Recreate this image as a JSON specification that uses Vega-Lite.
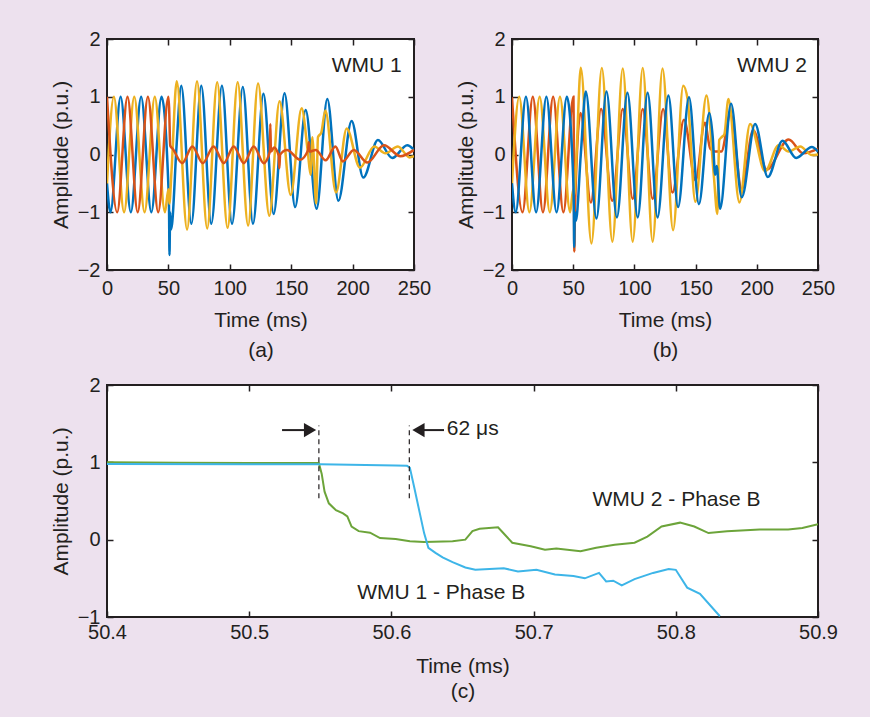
{
  "$schema": "https://vega.github.io/schema/vega-lite/v6.json",
  "background": "#EDE1EE",
  "padding": {"left": 49, "top": 28, "right": 31, "bottom": 15},
  "spacing": 13,
  "datasets": {
    "a": [
      {"s":"A","t":0,"v":-0.5},{"s":"A","t":2.8,"v":-1.0},{"s":"A","t":11.1,"v":1.0},{"s":"A","t":19.4,"v":-1.0},{"s":"A","t":27.8,"v":1.0},{"s":"A","t":36.1,"v":-1.0},{"s":"A","t":44.4,"v":1.0},{"s":"A","t":50.0,"v":-0.55},{"s":"A","t":50.5,"v":-0.9},{"s":"A","t":50.9,"v":-1.74},{"s":"A","t":51.4,"v":-1.0},{"s":"A","t":52.0,"v":-1.3},{"s":"A","t":53.0,"v":-1.2},{"s":"A","t":56.5,"v":0.1},{"s":"A","t":60.5,"v":1.19},{"s":"A","t":68.7,"v":-1.2},{"s":"A","t":76.8,"v":1.19},{"s":"A","t":84.9,"v":-1.2},{"s":"A","t":93.6,"v":1.19},{"s":"A","t":101.8,"v":-1.2},{"s":"A","t":110.6,"v":1.17},{"s":"A","t":118.9,"v":-1.2},{"s":"A","t":127.4,"v":1.05},{"s":"A","t":135.7,"v":-1.03},{"s":"A","t":144.6,"v":1.06},{"s":"A","t":153.2,"v":-0.91},{"s":"A","t":161.8,"v":0.77},{"s":"A","t":170.7,"v":-0.94},{"s":"A","t":179.4,"v":0.96},{"s":"A","t":188.4,"v":-0.8},{"s":"A","t":199.2,"v":0.58},{"s":"A","t":208.7,"v":-0.4},{"s":"A","t":220.6,"v":0.25},{"s":"A","t":232.3,"v":-0.06},{"s":"A","t":244.5,"v":0.16},{"s":"A","t":250,"v":0.08},
      {"s":"C","t":0,"v":-0.5},{"s":"C","t":5.6,"v":1.0},{"s":"C","t":13.9,"v":-1.0},{"s":"C","t":22.2,"v":1.0},{"s":"C","t":30.6,"v":-1.0},{"s":"C","t":38.9,"v":1.0},{"s":"C","t":47.2,"v":-1.0},{"s":"C","t":50.0,"v":-0.6},{"s":"C","t":50.8,"v":-0.85},{"s":"C","t":52.5,"v":-0.3},{"s":"C","t":56.8,"v":1.27},{"s":"C","t":65.2,"v":-1.3},{"s":"C","t":73.3,"v":1.27},{"s":"C","t":81.6,"v":-1.28},{"s":"C","t":89.7,"v":1.25},{"s":"C","t":98.2,"v":-1.27},{"s":"C","t":106.4,"v":1.25},{"s":"C","t":114.9,"v":-1.23},{"s":"C","t":123.0,"v":1.23},{"s":"C","t":132.2,"v":-1.06},{"s":"C","t":140.5,"v":0.92},{"s":"C","t":149.6,"v":-0.7},{"s":"C","t":158.5,"v":0.8},{"s":"C","t":163.5,"v":0.05},{"s":"C","t":165.8,"v":-0.35},{"s":"C","t":167.3,"v":0.3},{"s":"C","t":168.5,"v":-0.1},{"s":"C","t":170.3,"v":-0.85},{"s":"C","t":171.8,"v":0.3},{"s":"C","t":174.5,"v":0.38},{"s":"C","t":177.8,"v":0.76},{"s":"C","t":186.5,"v":-0.66},{"s":"C","t":195.2,"v":0.45},{"s":"C","t":206.0,"v":-0.23},{"s":"C","t":217.6,"v":0.14},{"s":"C","t":226.7,"v":0.02},{"s":"C","t":236.9,"v":0.14},{"s":"C","t":246.4,"v":-0.05},{"s":"C","t":250,"v":-0.03},
      {"s":"B","t":0,"v":1.0},{"s":"B","t":8.3,"v":-1.0},{"s":"B","t":16.7,"v":1.0},{"s":"B","t":25.0,"v":-1.0},{"s":"B","t":33.3,"v":1.0},{"s":"B","t":41.7,"v":-1.0},{"s":"B","t":50.0,"v":1.0},{"s":"B","t":50.6,"v":0.8},{"s":"B","t":51.5,"v":0.15},{"s":"B","t":53.5,"v":0.1},{"s":"B","t":61.3,"v":-0.15},{"s":"B","t":69.5,"v":0.14},{"s":"B","t":78.0,"v":-0.15},{"s":"B","t":86.8,"v":0.14},{"s":"B","t":95.1,"v":-0.15},{"s":"B","t":103.2,"v":0.14},{"s":"B","t":111.4,"v":-0.15},{"s":"B","t":119.5,"v":0.14},{"s":"B","t":127.6,"v":-0.15},{"s":"B","t":132.6,"v":0.05},{"s":"B","t":133.0,"v":0.53},{"s":"B","t":133.5,"v":0.05},{"s":"B","t":136.0,"v":0.12},{"s":"B","t":139.8,"v":-0.02},{"s":"B","t":140.3,"v":-0.24},{"s":"B","t":141.0,"v":0.0},{"s":"B","t":146.5,"v":0.08},{"s":"B","t":157.3,"v":-0.09},{"s":"B","t":163.8,"v":0.08},{"s":"B","t":164.3,"v":0.21},{"s":"B","t":165.0,"v":0.05},{"s":"B","t":170.0,"v":0.08},{"s":"B","t":178.0,"v":-0.1},{"s":"B","t":186.0,"v":0.14},{"s":"B","t":192.0,"v":-0.12},{"s":"B","t":201.0,"v":0.08},{"s":"B","t":212.0,"v":-0.14},{"s":"B","t":225.6,"v":0.16},{"s":"B","t":239.0,"v":-0.03},{"s":"B","t":250,"v":0.08}
    ],
    "b": [
      {"s":"B","t":0,"v":0.99},{"s":"B","t":8.6,"v":-1.0},{"s":"B","t":17.0,"v":1.0},{"s":"B","t":25.3,"v":-1.0},{"s":"B","t":33.6,"v":1.0},{"s":"B","t":42.0,"v":-1.0},{"s":"B","t":50.2,"v":1.0},{"s":"B","t":50.5,"v":0.3},{"s":"B","t":50.9,"v":-1.68},{"s":"B","t":51.5,"v":-0.9},{"s":"B","t":56.0,"v":0.72},{"s":"B","t":64.4,"v":-0.83},{"s":"B","t":72.8,"v":0.79},{"s":"B","t":81.9,"v":-0.8},{"s":"B","t":90.5,"v":0.79},{"s":"B","t":98.6,"v":-0.77},{"s":"B","t":106.8,"v":0.79},{"s":"B","t":114.9,"v":-0.77},{"s":"B","t":123.5,"v":0.79},{"s":"B","t":131.1,"v":-0.66},{"s":"B","t":140.5,"v":0.6},{"s":"B","t":150.0,"v":-0.45},{"s":"B","t":157.5,"v":0.55},{"s":"B","t":162.0,"v":0.1},{"s":"B","t":166.0,"v":0.05},{"s":"B","t":171.0,"v":0.05},{"s":"B","t":178.5,"v":0.7},{"s":"B","t":187.7,"v":-0.6},{"s":"B","t":197.0,"v":0.42},{"s":"B","t":208.0,"v":-0.26},{"s":"B","t":226.0,"v":0.26},{"s":"B","t":238.0,"v":0.02},{"s":"B","t":250,"v":0.1},
      {"s":"C","t":0,"v":-0.5},{"s":"C","t":5.9,"v":1.0},{"s":"C","t":14.2,"v":-1.0},{"s":"C","t":22.6,"v":1.0},{"s":"C","t":30.9,"v":-1.0},{"s":"C","t":39.2,"v":1.0},{"s":"C","t":47.5,"v":-1.0},{"s":"C","t":50.0,"v":-0.6},{"s":"C","t":50.8,"v":-0.7},{"s":"C","t":52.5,"v":-0.1},{"s":"C","t":56.2,"v":1.5},{"s":"C","t":64.9,"v":-1.54},{"s":"C","t":73.4,"v":1.5},{"s":"C","t":82.0,"v":-1.51},{"s":"C","t":90.5,"v":1.49},{"s":"C","t":98.6,"v":-1.51},{"s":"C","t":106.8,"v":1.5},{"s":"C","t":114.9,"v":-1.51},{"s":"C","t":123.0,"v":1.49},{"s":"C","t":131.6,"v":-1.31},{"s":"C","t":139.9,"v":1.19},{"s":"C","t":143.5,"v":0.95},{"s":"C","t":149.8,"v":-0.82},{"s":"C","t":158.9,"v":1.02},{"s":"C","t":164.9,"v":-0.37},{"s":"C","t":167.8,"v":-1.03},{"s":"C","t":169.3,"v":0.25},{"s":"C","t":171.3,"v":0.3},{"s":"C","t":173.5,"v":0.35},{"s":"C","t":176.8,"v":0.96},{"s":"C","t":185.8,"v":-0.83},{"s":"C","t":194.5,"v":0.53},{"s":"C","t":206.8,"v":-0.29},{"s":"C","t":217.8,"v":0.16},{"s":"C","t":226.0,"v":0.05},{"s":"C","t":235.5,"v":0.14},{"s":"C","t":245.0,"v":-0.01},{"s":"C","t":250,"v":0.0},
      {"s":"A","t":0,"v":-0.5},{"s":"A","t":3.0,"v":-1.0},{"s":"A","t":11.4,"v":1.0},{"s":"A","t":19.7,"v":-1.0},{"s":"A","t":28.1,"v":1.0},{"s":"A","t":36.4,"v":-1.0},{"s":"A","t":44.8,"v":1.0},{"s":"A","t":50.0,"v":-0.4},{"s":"A","t":50.5,"v":-0.9},{"s":"A","t":50.8,"v":-1.6},{"s":"A","t":51.3,"v":-1.0},{"s":"A","t":52.2,"v":-1.15},{"s":"A","t":56.2,"v":0.0},{"s":"A","t":60.3,"v":1.09},{"s":"A","t":69.0,"v":-1.11},{"s":"A","t":77.2,"v":1.09},{"s":"A","t":85.7,"v":-1.09},{"s":"A","t":94.3,"v":1.07},{"s":"A","t":102.7,"v":-1.09},{"s":"A","t":110.8,"v":1.07},{"s":"A","t":118.9,"v":-1.09},{"s":"A","t":127.8,"v":1.02},{"s":"A","t":135.7,"v":-0.91},{"s":"A","t":144.6,"v":0.99},{"s":"A","t":152.7,"v":-0.86},{"s":"A","t":161.2,"v":0.72},{"s":"A","t":164.0,"v":0.3},{"s":"A","t":166.0,"v":-0.35},{"s":"A","t":167.3,"v":-0.2},{"s":"A","t":170.0,"v":-0.94},{"s":"A","t":179.0,"v":0.88},{"s":"A","t":187.7,"v":-0.74},{"s":"A","t":198.6,"v":0.53},{"s":"A","t":209.0,"v":-0.39},{"s":"A","t":221.0,"v":0.24},{"s":"A","t":232.2,"v":-0.06},{"s":"A","t":245.0,"v":0.13},{"s":"A","t":250,"v":0.05}
    ],
    "c": [
      {"s":"G","t":50.399,"v":1.0},{"s":"G","t":50.45,"v":0.995},{"s":"G","t":50.5,"v":0.99},{"s":"G","t":50.549,"v":0.99},{"s":"G","t":50.551,"v":0.85},{"s":"G","t":50.553,"v":0.62},{"s":"G","t":50.556,"v":0.47},{"s":"G","t":50.561,"v":0.38},{"s":"G","t":50.566,"v":0.34},{"s":"G","t":50.569,"v":0.3},{"s":"G","t":50.572,"v":0.17},{"s":"G","t":50.577,"v":0.11},{"s":"G","t":50.585,"v":0.09},{"s":"G","t":50.592,"v":0.02},{"s":"G","t":50.603,"v":0.01},{"s":"G","t":50.613,"v":-0.02},{"s":"G","t":50.623,"v":-0.03},{"s":"G","t":50.643,"v":-0.02},{"s":"G","t":50.652,"v":0.0},{"s":"G","t":50.657,"v":0.11},{"s":"G","t":50.662,"v":0.14},{"s":"G","t":50.675,"v":0.16},{"s":"G","t":50.679,"v":0.08},{"s":"G","t":50.685,"v":-0.04},{"s":"G","t":50.698,"v":-0.085},{"s":"G","t":50.708,"v":-0.13},{"s":"G","t":50.716,"v":-0.115},{"s":"G","t":50.733,"v":-0.15},{"s":"G","t":50.744,"v":-0.105},{"s":"G","t":50.757,"v":-0.065},{"s":"G","t":50.771,"v":-0.04},{"s":"G","t":50.78,"v":0.04},{"s":"G","t":50.79,"v":0.17},{"s":"G","t":50.803,"v":0.22},{"s":"G","t":50.813,"v":0.17},{"s":"G","t":50.823,"v":0.085},{"s":"G","t":50.836,"v":0.11},{"s":"G","t":50.859,"v":0.13},{"s":"G","t":50.879,"v":0.13},{"s":"G","t":50.889,"v":0.15},{"s":"G","t":50.9,"v":0.2},
      {"s":"L","t":50.399,"v":0.98},{"s":"L","t":50.5,"v":0.975},{"s":"L","t":50.55,"v":0.975},{"s":"L","t":50.603,"v":0.96},{"s":"L","t":50.611,"v":0.955},{"s":"L","t":50.613,"v":0.93},{"s":"L","t":50.616,"v":0.68},{"s":"L","t":50.62,"v":0.34},{"s":"L","t":50.623,"v":0.085},{"s":"L","t":50.626,"v":-0.106},{"s":"L","t":50.631,"v":-0.17},{"s":"L","t":50.636,"v":-0.23},{"s":"L","t":50.643,"v":-0.29},{"s":"L","t":50.652,"v":-0.36},{"s":"L","t":50.659,"v":-0.39},{"s":"L","t":50.669,"v":-0.38},{"s":"L","t":50.679,"v":-0.37},{"s":"L","t":50.689,"v":-0.41},{"s":"L","t":50.702,"v":-0.39},{"s":"L","t":50.715,"v":-0.45},{"s":"L","t":50.728,"v":-0.47},{"s":"L","t":50.736,"v":-0.5},{"s":"L","t":50.746,"v":-0.43},{"s":"L","t":50.751,"v":-0.54},{"s":"L","t":50.756,"v":-0.53},{"s":"L","t":50.762,"v":-0.59},{"s":"L","t":50.771,"v":-0.51},{"s":"L","t":50.784,"v":-0.43},{"s":"L","t":50.795,"v":-0.38},{"s":"L","t":50.8,"v":-0.39},{"s":"L","t":50.808,"v":-0.62},{"s":"L","t":50.817,"v":-0.7},{"s":"L","t":50.831,"v":-0.99}
    ],
    "alab": [{"t": 240, "v": 1.54, "label": "WMU 1"}],
    "blab": [{"t": 241, "v": 1.54, "label": "WMU 2"}],
    "clab": [{"t": 50.8005, "v": 0.51, "label": "WMU 2 - Phase B"}, {"t": 50.635, "v": -0.69, "label": "WMU 1 - Phase B"}],
    "cnote": [{"t": 50.639, "v": 1.43, "label": "62 μs"}],
    "cdash": [{"t": 50.549, "v1": 0.535, "v2": 1.477}, {"t": 50.6126, "v1": 0.535, "v2": 1.477}],
    "cshaft": [{"t1": 50.5231, "t2": 50.5392, "v": 1.417}, {"t1": 50.618, "t2": 50.637, "v": 1.417}],
    "chead": [{"t": 50.5428, "v": 1.417, "dir": "right"}, {"t": 50.619, "v": 1.417, "dir": "left"}]
  },
  "vconcat": [
    {
      "hconcat": [
        {
          "width": 307, "height": 231,
          "layer": [
            {"data": {"name": "a"},
             "mark": {"type": "line", "interpolate": "monotone", "strokeWidth": 2.5, "clip": true},
             "encoding": {
               "x": {"field": "t", "type": "quantitative", "scale": {"domain": [0, 250], "nice": false, "zero": false}, "axis": {"values": [0, 50, 100, 150, 200, 250], "title": ["Time (ms)", "(a)"], "labelPadding": 14, "titlePadding": 11, "titleLineHeight": 30}},
               "y": {"field": "v", "type": "quantitative", "scale": {"domain": [-2, 2], "nice": false}, "axis": {"values": [-2, -1, 0, 1, 2], "title": "Amplitude (p.u.)"}},
               "color": {"field": "s", "type": "nominal", "scale": {"domain": ["A", "B", "C", "G", "L"], "range": ["#0072BD", "#D95319", "#EDB120", "#6CA43A", "#3DB5E8"]}, "legend": null}
             }},
            {"data": {"name": "alab"},
             "mark": {"type": "text", "align": "right", "baseline": "middle"},
             "encoding": {
               "x": {"field": "t", "type": "quantitative", "scale": {"domain": [0, 250], "nice": false, "zero": false}, "axis": {"orient": "top", "values": [0, 50, 100, 150, 200, 250], "labels": false, "title": null}},
               "y": {"field": "v", "type": "quantitative", "scale": {"domain": [-2, 2], "nice": false}, "axis": {"orient": "right", "values": [-2, -1, 0, 1, 2], "labels": false, "title": null}},
               "text": {"field": "label"}
             }}
          ],
          "resolve": {"axis": {"x": "independent", "y": "independent"}}
        },
        {
          "width": 306, "height": 231,
          "layer": [
            {"data": {"name": "b"},
             "mark": {"type": "line", "interpolate": "monotone", "strokeWidth": 2.5, "clip": true},
             "encoding": {
               "x": {"field": "t", "type": "quantitative", "scale": {"domain": [0, 250], "nice": false, "zero": false}, "axis": {"values": [0, 50, 100, 150, 200, 250], "title": ["Time (ms)", "(b)"], "labelPadding": 14, "titlePadding": 11, "titleLineHeight": 30}},
               "y": {"field": "v", "type": "quantitative", "scale": {"domain": [-2, 2], "nice": false}, "axis": {"values": [-2, -1, 0, 1, 2], "title": "Amplitude (p.u.)"}},
               "color": {"field": "s", "type": "nominal", "scale": {"domain": ["A", "B", "C", "G", "L"], "range": ["#0072BD", "#D95319", "#EDB120", "#6CA43A", "#3DB5E8"]}, "legend": null}
             }},
            {"data": {"name": "blab"},
             "mark": {"type": "text", "align": "right", "baseline": "middle"},
             "encoding": {
               "x": {"field": "t", "type": "quantitative", "scale": {"domain": [0, 250], "nice": false, "zero": false}, "axis": {"orient": "top", "values": [0, 50, 100, 150, 200, 250], "labels": false, "title": null}},
               "y": {"field": "v", "type": "quantitative", "scale": {"domain": [-2, 2], "nice": false}, "axis": {"orient": "right", "values": [-2, -1, 0, 1, 2], "labels": false, "title": null}},
               "text": {"field": "label"}
             }}
          ],
          "resolve": {"axis": {"x": "independent", "y": "independent"}}
        }
      ],
      "spacing": 98,
      "bounds": "flush"
    },
    {
      "width": 711, "height": 232,
      "layer": [
        {"data": {"name": "c"},
         "mark": {"type": "line", "strokeWidth": 2, "clip": true},
         "encoding": {
           "x": {"field": "t", "type": "quantitative", "scale": {"domain": [50.4, 50.9], "nice": false, "zero": false}, "axis": {"values": [50.4, 50.5, 50.6, 50.7, 50.8, 50.9], "format": ".1f", "title": ["Time (ms)", "(c)"], "labelPadding": 11.5, "titlePadding": 13, "titleLineHeight": 25}},
           "y": {"field": "v", "type": "quantitative", "scale": {"domain": [-1, 2], "nice": false, "zero": false}, "axis": {"values": [-1, 0, 1, 2], "title": "Amplitude (p.u.)"}},
           "color": {"field": "s", "type": "nominal", "scale": {"domain": ["A", "B", "C", "G", "L"], "range": ["#0072BD", "#D95319", "#EDB120", "#6CA43A", "#3DB5E8"]}, "legend": null}
         }},
        {"data": {"name": "clab"},
         "mark": {"type": "text", "align": "center", "baseline": "middle"},
         "encoding": {
           "x": {"field": "t", "type": "quantitative", "scale": {"domain": [50.4, 50.9], "nice": false, "zero": false}, "axis": {"orient": "top", "values": [50.4, 50.5, 50.6, 50.7, 50.8, 50.9], "labels": false, "title": null}},
           "y": {"field": "v", "type": "quantitative", "scale": {"domain": [-1, 2], "nice": false, "zero": false}, "axis": {"orient": "right", "values": [-1, 0, 1, 2], "labels": false, "title": null}},
           "text": {"field": "label"}
         }},
        {"data": {"name": "cnote"},
         "mark": {"type": "text", "align": "left", "baseline": "middle"},
         "encoding": {
           "x": {"field": "t", "type": "quantitative", "scale": {"domain": [50.4, 50.9], "nice": false, "zero": false}, "axis": null},
           "y": {"field": "v", "type": "quantitative", "scale": {"domain": [-1, 2], "nice": false, "zero": false}, "axis": null},
           "text": {"field": "label"}
         }},
        {"data": {"name": "cdash"},
         "mark": {"type": "rule", "color": "#231F20", "strokeWidth": 1.2, "strokeDash": [5, 4]},
         "encoding": {
           "x": {"field": "t", "type": "quantitative", "scale": {"domain": [50.4, 50.9], "nice": false, "zero": false}, "axis": null},
           "y": {"field": "v1", "type": "quantitative", "scale": {"domain": [-1, 2], "nice": false, "zero": false}, "axis": null},
           "y2": {"field": "v2"}
         }},
        {"data": {"name": "cshaft"},
         "mark": {"type": "rule", "color": "#231F20", "strokeWidth": 2},
         "encoding": {
           "x": {"field": "t1", "type": "quantitative", "scale": {"domain": [50.4, 50.9], "nice": false, "zero": false}, "axis": null},
           "x2": {"field": "t2"},
           "y": {"field": "v", "type": "quantitative", "scale": {"domain": [-1, 2], "nice": false, "zero": false}, "axis": null}
         }},
        {"data": {"name": "chead"},
         "mark": {"type": "point", "filled": true, "color": "#231F20", "opacity": 1, "size": 200},
         "encoding": {
           "x": {"field": "t", "type": "quantitative", "scale": {"domain": [50.4, 50.9], "nice": false, "zero": false}, "axis": null},
           "y": {"field": "v", "type": "quantitative", "scale": {"domain": [-1, 2], "nice": false, "zero": false}, "axis": null},
           "shape": {"field": "dir", "type": "nominal", "scale": {"domain": ["right", "left"], "range": ["triangle-right", "triangle-left"]}, "legend": null}
         }}
      ],
      "resolve": {"axis": {"x": "independent", "y": "independent"}}
    }
  ],
  "config": {
    "view": {"fill": "white", "stroke": "#231F20", "strokeWidth": 2},
    "axis": {"domain": false, "grid": false, "ticks": true, "tickColor": "#231F20", "tickWidth": 1.5, "tickSize": -6, "labelFont": "Liberation Sans", "labelFontSize": 20, "labelColor": "#231F20", "labelFlush": false, "labelOverlap": false, "titleFont": "Liberation Sans", "titleFontSize": 21, "titleFontWeight": "normal", "titleColor": "#231F20"},
    "axisX": {"labelPadding": 16, "titlePadding": 9},
    "axisY": {"labelPadding": 13, "titlePadding": 6},
    "text": {"font": "Liberation Sans", "fontSize": 21, "color": "#231F20"}
  }
}
